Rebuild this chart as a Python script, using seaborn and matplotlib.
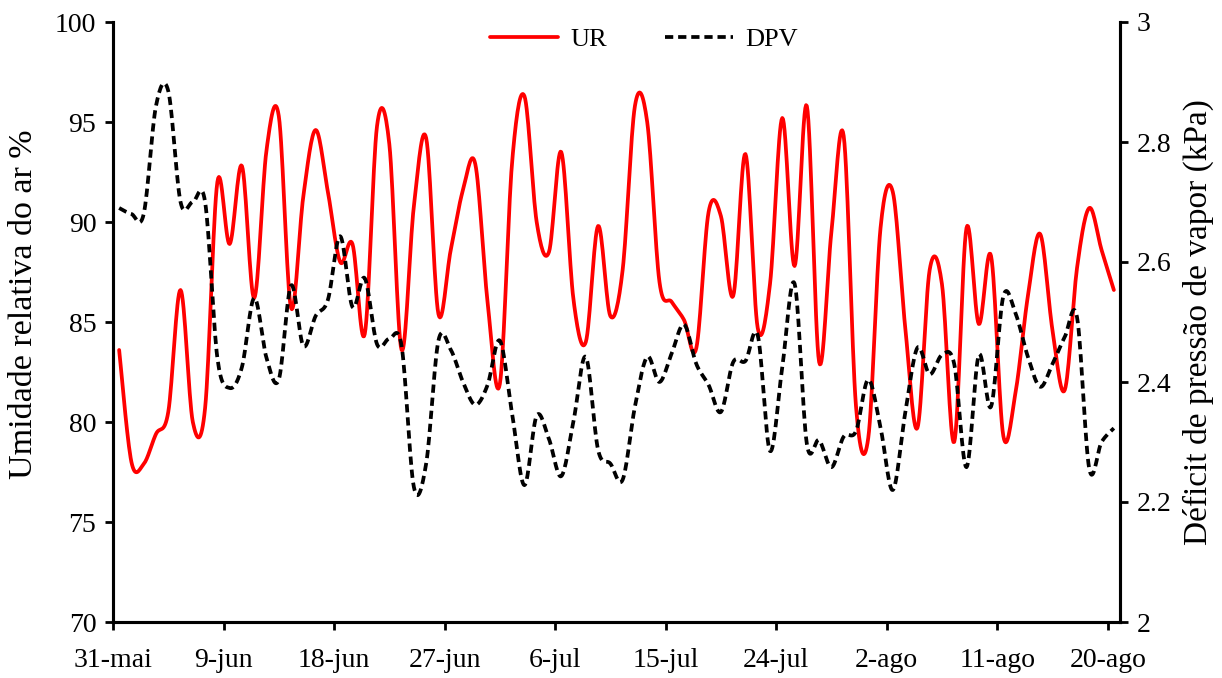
import numpy as np
import pandas as pd
import matplotlib
matplotlib.use("Agg")
import matplotlib.pyplot as plt
import seaborn as sns
from matplotlib.lines import Line2D

# ---- data (daily values, 31-mai .. 21-ago) ----
ur = [83.6, 78.0, 77.9, 79.4, 80.5, 86.6, 80.0, 80.7, 92.0, 88.9,
      92.8, 86.2, 93.6, 95.3, 85.7, 91.3, 94.6, 91.5, 88.0, 88.9,
      84.4, 94.8, 93.9, 83.6, 90.8, 94.2, 85.4, 88.6, 91.6, 92.9,
      86.0, 81.9, 93.0, 96.3, 90.0, 88.5, 93.5, 86.1, 84.0, 89.8,
      85.3, 87.6, 95.8, 95.0, 87.0, 86.0, 85.1, 83.7, 90.5, 90.3,
      86.3, 93.4, 84.7, 86.9, 95.2, 87.8, 95.8, 83.0, 89.5, 94.3,
      80.8, 79.2, 89.7, 91.5, 84.8, 79.7, 87.6, 86.9, 79.0, 89.7,
      84.9, 88.3, 79.3, 81.5, 86.3, 89.4, 84.6, 81.6, 87.7, 90.7,
      88.6, 86.6]
dpv = [2.69, 2.68, 2.68, 2.86, 2.885, 2.70, 2.70, 2.70, 2.44, 2.39,
       2.425, 2.54, 2.44, 2.404, 2.561, 2.46, 2.51, 2.537, 2.643, 2.525,
       2.573, 2.463, 2.472, 2.46, 2.225, 2.264, 2.469, 2.454, 2.40, 2.362,
       2.395, 2.469, 2.347, 2.228, 2.344, 2.305, 2.243, 2.335, 2.442, 2.287,
       2.264, 2.237, 2.359, 2.442, 2.40, 2.448, 2.496, 2.43, 2.395, 2.35,
       2.433, 2.435, 2.478, 2.285, 2.425, 2.564, 2.297, 2.303, 2.258, 2.309,
       2.318, 2.404, 2.324, 2.22, 2.347, 2.457, 2.413, 2.445, 2.43, 2.258,
       2.445, 2.359, 2.543, 2.514, 2.442, 2.392, 2.43, 2.475, 2.508, 2.255,
       2.30, 2.323]
tick_labels = ["31-mai", "9-jun", "18-jun", "27-jun", "6-jul",
               "15-jul", "24-jul", "2-ago", "11-ago", "20-ago"]
tick_days = [0, 9, 18, 27, 36, 45, 54, 63, 72, 81]

days = np.arange(len(ur)) + 0.5  # points centred between date ticks


def smooth(x, y, n=16):
    """Excel-like smoothed line (cubic Bezier, Catmull-Rom control points)."""
    x = np.asarray(x, float)
    y = np.asarray(y, float)
    P = np.column_stack([x, y])
    out = []
    t = np.linspace(0, 1, n, endpoint=False)[:, None]
    for i in range(len(P) - 1):
        p0 = P[i - 1] if i > 0 else P[i]
        p1, p2 = P[i], P[i + 1]
        p3 = P[i + 2] if i + 2 < len(P) else P[i + 1]
        c1 = p1 + (p2 - p0) / 6.0
        c2 = p2 - (p3 - p1) / 6.0
        seg = ((1 - t) ** 3) * p1 + 3 * ((1 - t) ** 2) * t * c1 \
            + 3 * (1 - t) * t ** 2 * c2 + t ** 3 * p2
        out.append(seg)
    out.append(P[-1:])
    out = np.vstack(out)
    return out[:, 0], out[:, 1]


sns.set_style("ticks")
plt.rcParams["font.family"] = ["Liberation Serif", "DejaVu Serif"]
plt.rcParams["text.color"] = "black"
plt.rcParams["axes.labelcolor"] = "black"

fig = plt.figure(figsize=(12.22, 6.78), dpi=100)
ax = fig.add_axes([113 / 1222, 56 / 678, (1120 - 113) / 1222, 600 / 678])
ax2 = ax.twinx()

xs, ys = smooth(days, ur)
df_ur = pd.DataFrame({"dia": xs, "UR": ys})
xs2, ys2 = smooth(days, dpv)
df_dpv = pd.DataFrame({"dia": xs2, "DPV": ys2})

sns.lineplot(data=df_ur, x="dia", y="UR", ax=ax, color="#FF0000",
             linewidth=2.7, sort=False, estimator=None)
sns.lineplot(data=df_dpv, x="dia", y="DPV", ax=ax2, color="black",
             linewidth=2.7, sort=False, estimator=None)
ax2.lines[0].set_dashes([2.2, 1.3])

ax.set_xlim(0, 82)
ax.set_ylim(70, 100)
ax2.set_ylim(2, 3)
ax.set_yticks([70, 75, 80, 85, 90, 95, 100])
ax2.set_yticks([2, 2.2, 2.4, 2.6, 2.8, 3])
ax2.set_yticklabels(["2", "2.2", "2.4", "2.6", "2.8", "3"])
ax.set_xticks(tick_days)
ax.set_xticklabels(tick_labels)

for a in (ax, ax2):
    a.spines["top"].set_visible(False)
    for s in ("left", "right", "bottom"):
        a.spines[s].set_linewidth(2.2)
        a.spines[s].set_color("black")
    a.tick_params(axis="both", direction="out", length=6, width=2,
                  labelsize=20, colors="black")
ax.tick_params(axis="x", pad=13)
ax.tick_params(axis="y", pad=6)
ax2.tick_params(axis="y", pad=6)

ax.set_xlabel("")
ax.set_ylabel("Umidade relativa do ar %", fontsize=24.5, labelpad=6,
              color="black")
ax.yaxis.set_label_coords(-0.073, 0.53)
ax2.set_ylabel("Déficit de pressão de vapor (kPa)", fontsize=24, labelpad=8,
               color="black")
ax.grid(False)
ax2.grid(False)

handles = [Line2D([], [], color="#FF0000", lw=2.7),
           Line2D([], [], color="black", lw=2.7, dashes=[2.2, 1.3])]
leg = ax.legend(handles, ["UR", "DPV"], loc="upper center",
                bbox_to_anchor=(0.527, 1.03), ncol=2, frameon=False,
                fontsize=19, handlelength=2.6, columnspacing=2.2,
                handletextpad=0.45)
for txt in leg.get_texts():
    txt.set_color("black")

fig.savefig("out.png", dpi=100, facecolor="white")
